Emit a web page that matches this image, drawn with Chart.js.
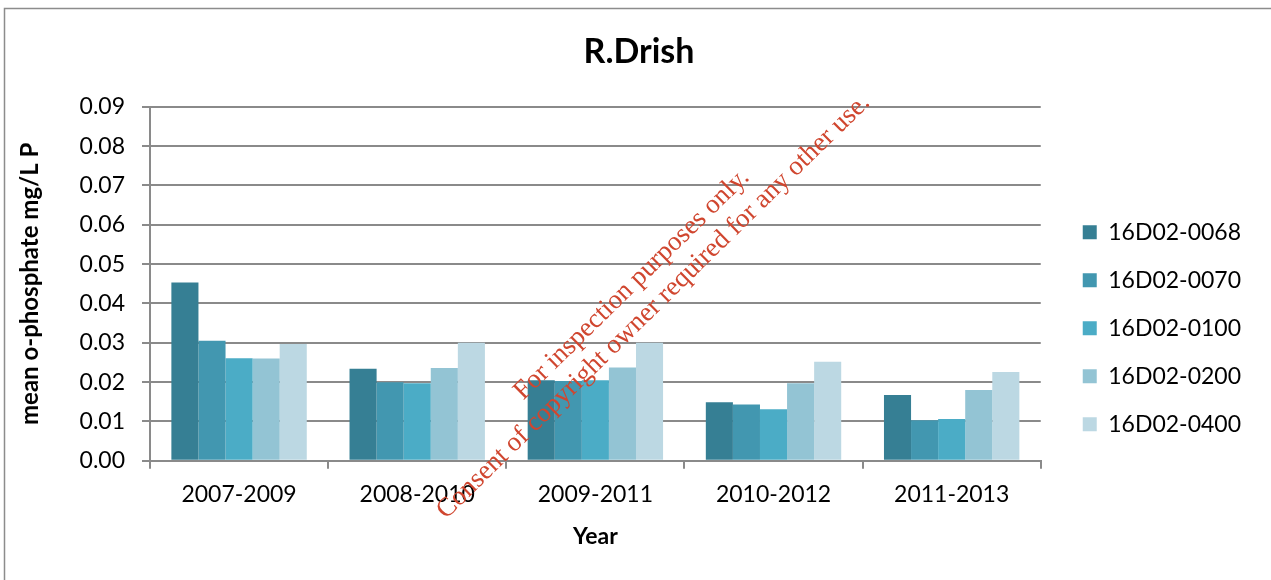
<!DOCTYPE html>
<html>
<head>
<meta charset="utf-8">
<title>R.Drish</title>
<script src="https://cdn.jsdelivr.net/npm/chart.js@4"></script>
<style>
  html, body { margin: 0; padding: 0; background: #fff; }
  #wrap { width: 1271px; height: 580px; }
</style>
</head>
<body>
<div id="wrap"><canvas id="chart"></canvas></div>
<script>
'use strict';

// Data
let periods = ['2007-2009', '2008-2010', '2009-2011', '2010-2012', '2011-2013'];
let stations = ['16D02-0068', '16D02-0070', '16D02-0100', '16D02-0200', '16D02-0400'];
let st0068 = [0.0453, 0.0234, 0.0205, 0.0149, 0.0167];
let st0070 = [0.0305, 0.0200, 0.0203, 0.0143, 0.0103];
let st0100 = [0.0261, 0.0197, 0.0205, 0.0131, 0.0106];
let st0200 = [0.0260, 0.0236, 0.0237, 0.0197, 0.0180];
let st0400 = [0.0297, 0.0300, 0.0300, 0.0252, 0.0226];
let barColours = ['#367f94', '#4297b0', '#4bacc6', '#93c4d4', '#bcd8e3'];

let seriesValues = [st0068, st0070, st0100, st0200, st0400];
let datasets = [];
for (let i = 0; i < stations.length; i++) {
  datasets.push({
    label: stations[i],
    data: seriesValues[i],
    backgroundColor: barColours[i],
    borderWidth: 0,
    categoryPercentage: 0.76,
    barPercentage: 1
  });
}

let gridGrey = '#8a8a8a';
let font = 'Lato';

// outer frame of the chart (left and top edges are in view)
let framePlugin = {
  id: 'frame',
  beforeDraw(chart) {
    let ctx = chart.ctx;
    ctx.save();
    ctx.fillStyle = '#fff';
    ctx.fillRect(0, 0, chart.width, chart.height);
    ctx.strokeStyle = '#8c8c8c';
    ctx.lineWidth = 1.5;
    ctx.strokeRect(4.5, 8.5, 1400, 700);
    ctx.restore();
  }
};

// the red diagonal stamp over the chart
let stampPlugin = {
  id: 'stamp',
  afterDraw(chart) {
    let ctx = chart.ctx;
    ctx.save();
    ctx.translate(643, 296);
    ctx.rotate(-44.4 * Math.PI / 180);
    ctx.font = '27px "Liberation Serif"';
    ctx.fillStyle = '#d0462f';
    ctx.textAlign = 'center';
    ctx.textBaseline = 'middle';
    ctx.fillText('For inspection purposes only.', 0, -16);
    ctx.fillText('Consent of copyright owner required for any other use.', 0, 15);
    ctx.restore();
  }
};

let ctx = document.getElementById('chart').getContext('2d');
new Chart(ctx, {
  type: 'bar',
  data: { labels: periods, datasets: datasets },
  plugins: [framePlugin, stampPlugin],
  options: {
    responsive: true,
    maintainAspectRatio: false,
    animation: false,
    layout: { padding: { left: 27, right: 20, top: 10, bottom: 10 } },
    plugins: {
      tooltip: { enabled: false },
      title: {
        display: true,
        text: 'R.Drish',
        color: '#000',
        font: { family: font, size: 34, weight: 'bold' },
        padding: { top: 22, bottom: 34 }
      },
      legend: {
        position: 'right',
        align: 'end',
        fullSize: false,
        labels: {
          color: '#000',
          font: { family: font, size: 23 },
          boxWidth: 14,
          boxHeight: 14,
          padding: 25
        }
      }
    },
    scales: {
      x: {
        grid: {
          display: true,
          offset: true,
          drawOnChartArea: false,
          color: gridGrey,
          lineWidth: 2,
          tickLength: 8
        },
        border: { color: gridGrey, width: 2 },
        ticks: { color: '#000', font: { family: font, size: 23 }, padding: 12 },
        title: {
          display: true,
          text: 'Year',
          color: '#000',
          font: { family: font, size: 23, weight: 'bold' },
          padding: { top: 2, bottom: 20 }
        }
      },
      y: {
        min: 0,
        max: 0.09,
        ticks: {
          stepSize: 0.01,
          color: '#000',
          font: { family: font, size: 23 },
          padding: 17,
          callback: function (v) { return v.toFixed(2); }
        },
        grid: { color: gridGrey, lineWidth: 2, tickLength: 8 },
        border: { color: gridGrey, width: 2 },
        title: {
          display: true,
          text: 'mean o-phosphate mg/L P',
          color: '#000',
          font: { family: font, size: 24, weight: 'bold' },
          padding: { top: -11, bottom: 8 }
        },
        afterFit: function (scale) { scale.width = 123; }
      },
      gap: {
        position: 'right',
        display: true,
        grid: { display: false },
        border: { display: false },
        ticks: { display: false },
        afterFit: function (scale) { scale.width = 17; }
      }
    }
  }
});
</script>
</body>
</html>
